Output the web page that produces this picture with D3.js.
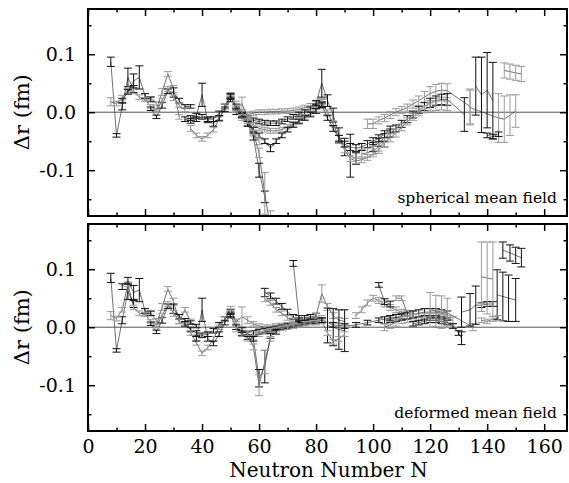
<!DOCTYPE html>
<html>
<head>
<meta charset="utf-8">
<script src="https://cdn.jsdelivr.net/npm/d3@7"></script>
<style>
  body { margin: 0; background: #fff; }
  svg { display: block; }
  .tk text { font-family: "DejaVu Serif", serif; font-size: 19px; fill: #000; }
</style>
</head>
<body>
<div id="chart"></div>
<script>
// isotope chains: [N, delta r (fm), error]
// spherical mean field (upper panel)
const sphA = [[8,0.087,0.008],[10,-0.040,0.003],[12,0.010,0.006],[14,0.060,0.016],[16,0.040,0.006]];
const sphB = [[8,0.018,0.007],[10,0.015,0.004],[12,0.025,0.004],[14,0.038,0.003],[16,0.036,0.004],[18,0.026,0.004],[20,0.022,0.003],[22,0.024,0.003],[24,0.015,0.003]];
const sphC = [[12,0.020,0.004],[14,0.035,0.004],[16,0.054,0.012],[18,0.060,0.020],[20,0.028,0.004],[22,0.022,0.004]];
const sphD = [[20,0.022,0.003],[22,0.010,0.003],[24,0.004,0.003],[26,0.035,0.006],[28,0.066,0.004],[30,0.040,0.006],[32,-0.008,0.004]];
const sphE = [[22,0.006,0.003],[24,-0.008,0.003],[26,0.012,0.005],[28,0.036,0.004],[30,0.034,0.008],[32,0.020,0.004],[34,0.010,0.003],[36,0.010,0.003]];
const sphF = [[24,0.002,0.003],[26,0.020,0.004],[28,0.040,0.004],[30,0.025,0.005],[32,0.012,0.004],[34,0.004,0.003]];
const sphG = [[34,-0.012],[36,-0.015],[38,-0.012],[40,-0.008],[42,-0.012],[44,-0.012],[46,-0.002],[48,0.010],[50,0.026]];
const sphH = [[36,-0.028,0.005],[38,-0.040],[40,-0.046],[42,-0.040],[44,-0.030],[46,-0.012],[48,0.010],[50,0.030],[52,0.005],[54,-0.005]];
const sphI = [[36,-0.010],[38,-0.006],[40,0.030,0.020],[42,-0.014],[44,-0.020],[46,-0.010],[48,0.005],[50,0.022]];
const sphJ = [[50,0.028],[52,0.004],[54,-0.004],[56,-0.004],[58,-0.002],[60,0.000],[62,0.000],[64,0.001],[66,0.001],[68,0.002],[70,0.002],[72,0.003],[74,0.005],[76,0.008],[78,0.011],[80,0.015],[82,0.020]];
const sphK = [[52,0.000],[54,-0.006],[56,-0.010],[58,-0.014],[60,-0.016],[62,-0.018],[64,-0.019],[66,-0.019],[68,-0.016],[70,-0.012],[72,-0.008],[74,-0.004],[76,0.000],[78,0.005],[80,0.010],[82,0.014]];
const sphL = [[54,-0.010],[56,-0.016],[58,-0.022],[60,-0.028],[62,-0.030],[64,-0.032],[66,-0.032],[68,-0.030],[70,-0.025],[72,-0.020],[74,-0.014],[76,-0.008],[78,-0.002],[80,0.004],[82,0.010]];
const sphM = [[56,-0.020],[58,-0.030],[60,-0.040],[62,-0.050],[64,-0.062,0.006],[66,-0.050],[68,-0.040],[70,-0.030],[72,-0.022],[74,-0.016],[76,-0.010],[78,-0.004],[80,0.002]];
const sphN = [[52,0.004],[54,0.015,0.011],[56,-0.010],[58,-0.036,0.005],[60,-0.050,0.006]];
const sphP1 = [[50,0.028],[52,0.010],[54,-0.004],[56,-0.020],[58,-0.042,0.006],[60,-0.100,0.012],[62,-0.146,0.010]];
const sphP2 = [[52,0.015],[54,0.000],[56,-0.015],[58,-0.035],[60,-0.070,0.008],[62,-0.140,0.036],[64,-0.200,0.030]];
const sphO = [[80,0.016],[82,0.050,0.024],[84,0.020,0.010],[86,-0.005,0.012],[88,-0.040,0.013],[90,-0.060,0.015],[92,-0.075,0.037],[94,-0.080,0.010]];
const sphP = [[82,0.018],[84,0.000],[86,-0.020,0.005],[88,-0.045,0.005],[90,-0.065,0.005],[92,-0.080,0.005],[94,-0.084,0.005],[96,-0.082,0.005],[98,-0.078,0.005],[100,-0.072,0.005],[102,-0.065,0.006],[104,-0.055,0.006]];
const sphQ = [[82,0.012],[84,-0.010],[86,-0.028,0.005],[88,-0.045,0.005],[90,-0.055,0.005],[92,-0.060,0.006],[94,-0.062,0.006],[96,-0.060,0.006],[98,-0.055,0.006],[100,-0.050,0.006],[102,-0.045,0.006],[104,-0.038,0.006],[106,-0.030,0.006]];
const sphR = [[98,-0.020,0.008],[100,-0.020,0.008],[102,-0.014,0.006],[104,-0.010,0.006],[106,-0.005,0.006],[108,0.000,0.006],[110,0.004,0.006],[112,0.008,0.006],[114,0.014,0.007],[116,0.020,0.008],[118,0.026,0.010],[120,0.032,0.012],[122,0.036,0.012],[124,0.038,0.012],[126,0.037,0.012],[134,0.010,0.030]];
const sphS = [[100,-0.060,0.008],[102,-0.052,0.007],[104,-0.044,0.007],[106,-0.036,0.007],[108,-0.028,0.006],[110,-0.020,0.006],[112,-0.012,0.006],[114,-0.004,0.006],[116,0.004,0.006],[118,0.010,0.007],[120,0.016,0.008],[122,0.020,0.008],[124,0.022,0.009],[126,0.022,0.010],[132,-0.004,0.029]];
const sphT = [[96,-0.072,0.008],[98,-0.070,0.008],[100,-0.066,0.007],[102,-0.060,0.007],[104,-0.052,0.007],[106,-0.044,0.007],[108,-0.036,0.007],[110,-0.026,0.006],[112,-0.016,0.006],[114,-0.008,0.006],[116,0.000,0.006],[118,0.005,0.006],[120,0.009,0.007],[122,0.011,0.008],[124,0.012,0.008],[126,0.011,0.008]];
const sphW = [[136,0.045,0.050],[138,0.030,0.065],[140,0.038,0.065],[142,0.020,0.066]];
const sphX = [[134,0.008,0.030],[144,-0.010,0.042],[146,-0.012,0.040],[148,-0.005,0.035],[150,0.002,0.028]];
const sphY = [[140,-0.040],[142,-0.042],[144,-0.038]];
const sphZ = [[146,0.072,0.013],[148,0.070,0.013],[150,0.068,0.013],[152,0.066,0.013]];

// deformed mean field (lower panel)
const defA = [[8,0.085,0.008],[10,-0.040,0.003],[12,0.012,0.006],[14,0.062,0.014],[16,0.040,0.006]];
const defB = [[8,0.020,0.007],[10,0.015,0.004],[12,0.030,0.004],[14,0.074,0.004],[16,0.034,0.004],[18,0.024,0.004],[20,0.022,0.003],[22,0.024,0.003],[24,0.012,0.003]];
const defC = [[12,0.070,0.005],[14,0.080,0.006],[16,0.060,0.012],[18,0.064,0.020],[20,0.028,0.004],[22,0.024,0.004]];
const defD = [[20,0.022,0.003],[22,0.010,0.003],[24,0.004,0.003],[26,0.035,0.006],[28,0.066,0.004],[30,0.044,0.006],[32,0.010,0.004],[34,0.030,0.004],[36,0.010,0.004]];
const defE = [[22,0.006,0.003],[24,-0.008,0.003],[26,0.012,0.005],[28,0.036,0.004],[30,0.032,0.008],[32,0.018,0.004],[34,0.012,0.003],[36,0.008,0.003],[38,0.002,0.003]];
const defF = [[24,0.002,0.003],[26,0.020,0.004],[28,0.040,0.004],[30,0.024,0.005],[32,0.010,0.004],[34,0.004,0.003],[36,-0.004,0.003]];
const defG = [[34,0.006],[36,-0.004],[38,-0.010],[40,-0.014],[42,-0.012],[44,-0.006],[46,0.004],[48,0.014],[50,0.026]];
const defH = [[36,-0.010],[38,-0.027],[40,-0.045],[42,-0.035],[44,-0.020],[46,0.000],[48,0.014],[50,0.032],[52,0.006]];
const defI = [[38,-0.020],[40,0.030,0.020],[42,-0.020],[44,-0.028],[46,-0.012],[48,0.008],[50,0.022]];
const defJ = [[50,0.028],[52,0.010],[54,0.018,0.017],[56,0.012,0.006],[58,0.006],[60,0.002],[62,0.000],[64,0.000],[66,0.002],[68,0.003],[70,0.004],[72,0.006],[74,0.008],[76,0.010],[78,0.012],[80,0.014],[82,0.016]];
const defK = [[50,0.020],[52,0.000],[54,-0.010],[56,-0.017],[58,-0.010],[60,-0.008],[62,-0.006],[64,-0.004],[66,-0.002],[68,0.000],[70,0.002],[72,0.004],[74,0.006],[76,0.008],[78,0.010],[80,0.010],[82,0.012]];
const defL = [[52,-0.004],[54,-0.012],[56,-0.020],[58,-0.018],[60,-0.012],[62,-0.008],[64,-0.006],[66,-0.004],[68,-0.002],[70,0.000],[72,0.002],[74,0.004],[76,0.006],[78,0.008],[80,0.008]];
const defP1 = [[54,-0.005],[56,-0.012],[58,-0.020],[60,-0.088,0.015],[62,-0.068,0.028],[64,-0.015],[66,-0.008]];
const defP2 = [[56,-0.010],[58,-0.034,0.005],[60,-0.100,0.018],[62,-0.060,0.020],[64,-0.020]];
const defM = [[62,0.060,0.007],[64,0.054,0.005],[66,0.045,0.005],[68,0.036,0.005],[70,0.026,0.005],[72,0.018],[74,0.012]];
const defN = [[62,0.048],[64,0.042],[66,0.030],[68,0.024],[70,0.016],[72,0.012]];
const defO = [[72,0.110,0.005],[74,0.016],[76,0.016],[78,0.018],[80,0.020]];
const defP = [[80,0.020],[82,0.058,0.015],[84,0.035,0.006],[86,0.020,0.005],[88,0.012,0.005],[90,0.010,0.005]];
const defQ = [[84,0.003,0.030],[86,0.000,0.032],[88,-0.004,0.034],[90,-0.006,0.036]];
const defQ2 = [[82,0.010],[84,-0.010],[86,-0.025],[88,-0.020],[90,-0.012]];
const defR = [[82,0.012],[86,0.004],[90,0.002],[94,0.004],[98,0.008],[102,0.012],[106,0.016],[110,0.018]];
const defS = [[94,0.020,0.005],[96,0.030,0.005],[98,0.042,0.005],[100,0.050,0.005],[102,0.046,0.005],[104,0.040,0.005],[106,0.034,0.005],[108,0.030,0.005],[110,0.026,0.005],[112,0.024,0.005],[114,0.022,0.006]];
const defT = [[102,0.073],[104,0.044,0.005],[106,0.040,0.005]];
const defU = [[108,0.050],[110,0.050],[112,0.024,0.005]];
const defV = [[104,0.012,0.006],[106,0.014,0.006],[108,0.016,0.006],[110,0.018,0.006],[112,0.020,0.006],[114,0.022,0.006],[116,0.024,0.006],[118,0.026,0.006],[120,0.026,0.006],[122,0.026,0.006],[124,0.024,0.006],[126,0.022,0.006]];
const defW = [[104,0.000,0.006],[106,0.004,0.006],[108,0.008,0.006],[110,0.012,0.006],[112,0.014,0.006],[114,0.016,0.006],[116,0.017,0.006],[118,0.018,0.006],[120,0.018,0.006],[122,0.018,0.006],[124,0.016,0.006],[126,0.014,0.006],[128,0.012,0.006]];
const defX = [[114,0.006],[116,0.008],[118,0.010],[120,0.012],[122,0.012],[124,0.010],[126,0.008],[128,0.002],[130,-0.010],[131,-0.019,0.011]];
const defY = [[120,0.030,0.030],[122,0.028,0.027],[124,0.026,0.028],[126,0.025,0.025],[135,0.000,0.006]];
const defZ = [[131,0.026,0.026],[134,0.030,0.028],[136,0.038,0.033],[138,0.038],[140,0.040],[142,0.040]];
const defAA = [[138,0.087,0.060],[140,0.085,0.062],[142,0.083,0.064]];
const defAC = [[143.5,0.056,0.043],[145.5,0.053,0.042],[147.5,0.050,0.040],[150,0.047,0.037]];
const defAD = [[138,0.012],[140,0.010],[142,0.014],[144,0.016]];
const defAE = [[145.5,0.133,0.014],[148,0.128,0.014],[150,0.124,0.014],[152,0.120,0.016]];

const sphChains = [sphA, sphB, sphC, sphD, sphE, sphF, sphG, sphH, sphI, sphJ, sphK, sphL, sphM, sphN, sphP1, sphP2,
                   sphO, sphP, sphQ, sphR, sphS, sphT, sphW, sphX, sphY, sphZ];
const defChains = [defA, defB, defC, defD, defE, defF, defG, defH, defI, defJ, defK, defL, defP1, defP2, defM, defN, defO,
                   defP, defQ, defQ2, defR, defS, defT, defU, defV, defW, defX, defY, defZ, defAA, defAC, defAD, defAE];

const xMajor = [0, 20, 40, 60, 80, 100, 120, 140, 160];
const xMinor = [10, 30, 50, 70, 90, 110, 130, 150];
const yMajor = [-0.1, 0.0, 0.1];
const yMinor = [-0.15, -0.05, 0.05, 0.15];
const panelLabels = ["spherical mean field", "deformed mean field"];

const W = 569, H = 483;
const left = 88, right = 567, ph = 207;
const tops = [9, 224];

const svg = d3.select("#chart").append("svg")
  .attr("width", W).attr("height", H);

const x = d3.scaleLinear().domain([0, 168]).range([left, right]);

[sphChains, defChains].forEach((chains, p) => {
  const top = tops[p];
  const y = d3.scaleLinear().domain([-0.179, 0.178]).range([top + ph, top]);
  const g = svg.append("g");

  g.append("clipPath").attr("id", "clip" + p)
    .append("rect").attr("x", left).attr("y", top).attr("width", right - left).attr("height", ph);

  // zero line
  g.append("line")
    .attr("x1", left).attr("x2", right)
    .attr("y1", y(0)).attr("y2", y(0))
    .attr("stroke", "#555").attr("stroke-width", 1);

  const plot = g.append("g").attr("clip-path", "url(#clip" + p + ")");
  const line = d3.line().x(d => x(d[0])).y(d => y(d[1]));

  chains.forEach((c, i) => {
    const col = i % 2 ? "#9a9a9a" : "#111";
    plot.append("path").datum(c)
      .attr("d", line)
      .attr("fill", "none").attr("stroke", "#333").attr("stroke-width", 0.7);

    const bars = plot.append("g").attr("stroke", col).attr("stroke-width", 1);
    c.forEach(d => {
      const e = d[2] === undefined ? 0.004 : d[2];
      const cx = x(d[0]);
      bars.append("line").attr("x1", cx).attr("x2", cx).attr("y1", y(d[1] - e)).attr("y2", y(d[1] + e));
      bars.append("line").attr("x1", cx - 4).attr("x2", cx + 4).attr("y1", y(d[1] - e)).attr("y2", y(d[1] - e));
      bars.append("line").attr("x1", cx - 4).attr("x2", cx + 4).attr("y1", y(d[1] + e)).attr("y2", y(d[1] + e));
    });
  });

  // inward ticks on all four sides
  const ax = (gen, tx, ty) => {
    const a = g.append("g").attr("class", "tk")
      .attr("transform", "translate(" + tx + "," + ty + ")").call(gen);
    a.select(".domain").remove();
    a.selectAll(".tick line").attr("stroke", "#000").attr("stroke-width", 1.5);
    return a;
  };
  ax(d3.axisTop(x).tickValues(xMajor).tickSize(-7).tickFormat(""), 0, top);
  ax(d3.axisTop(x).tickValues(xMinor).tickSize(-3.5).tickFormat(""), 0, top);
  ax(d3.axisBottom(x).tickValues(xMajor).tickSize(-7).tickPadding(9)
      .tickFormat(p === 1 ? (d => d) : ""), 0, top + ph);
  ax(d3.axisBottom(x).tickValues(xMinor).tickSize(-3.5).tickFormat(""), 0, top + ph);

  ax(d3.axisLeft(y).tickValues(yMajor).tickSize(-7).tickPadding(12)
      .tickFormat(d => d.toFixed(1)), left, 0);
  ax(d3.axisLeft(y).tickValues(yMinor).tickSize(-3.5).tickFormat(""), left, 0);
  ax(d3.axisRight(y).tickValues(yMajor).tickSize(-7).tickFormat(""), right, 0);
  ax(d3.axisRight(y).tickValues(yMinor).tickSize(-3.5).tickFormat(""), right, 0);

  g.append("rect")
    .attr("x", left).attr("y", top).attr("width", right - left).attr("height", ph)
    .attr("fill", "none").attr("stroke", "#000").attr("stroke-width", 2);

  g.append("text")
    .attr("x", 557).attr("y", top + 194)
    .attr("text-anchor", "end")
    .style("font-family", "'DejaVu Serif', serif").style("font-size", "15.5px")
    .text(panelLabels[p]);

  g.append("text")
    .attr("transform", "translate(29," + y(0) + ") rotate(-90)")
    .attr("text-anchor", "middle")
    .style("font-family", "'DejaVu Serif', serif").style("font-size", "21px")
    .text("Δr (fm)");
});

svg.append("text")
  .attr("x", (223 + 434) / 2).attr("y", 477)
  .attr("text-anchor", "middle")
  .style("font-family", "'DejaVu Serif', serif").style("font-size", "20px")
  .text("Neutron Number N");
</script>
</body>
</html>
